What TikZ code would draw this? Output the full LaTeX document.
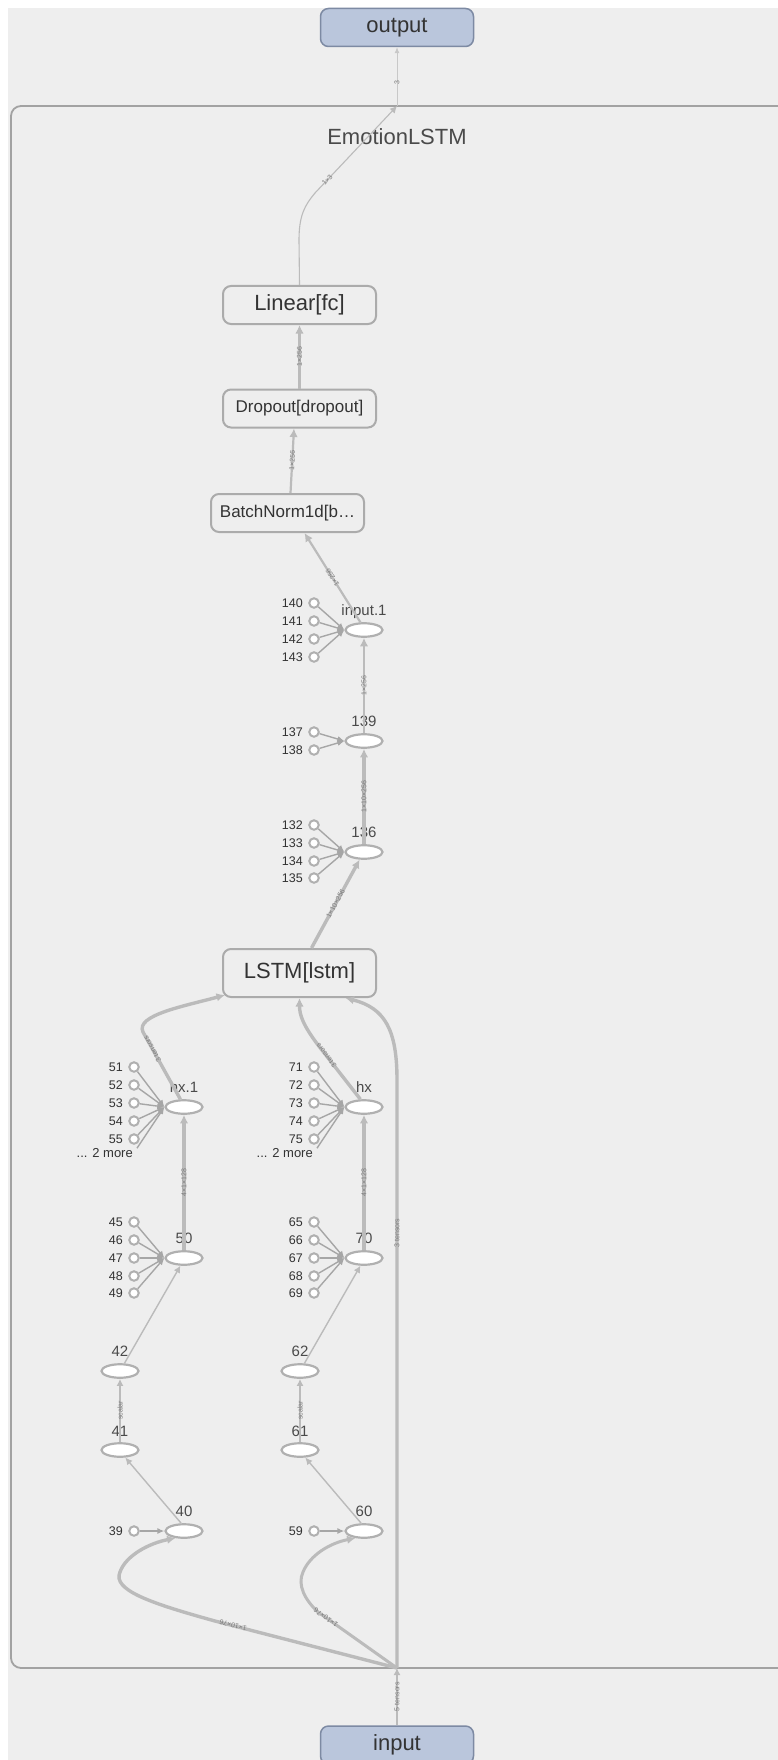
\documentclass[tikz,border=0pt]{standalone}
\usepackage{fontspec}
\setmainfont{Liberation Sans}
\usetikzlibrary{shapes.geometric,arrows.meta}
\definecolor{bgc}{HTML}{EEEEEE}
\definecolor{modc}{HTML}{A2A2A2}
\definecolor{boxc}{HTML}{ABABAB}
\definecolor{elc}{HTML}{B0B0B0}
\definecolor{edc}{HTML}{BBBBBB}
\definecolor{cec}{HTML}{A6A6A6}
\definecolor{txt}{HTML}{333333}
\definecolor{labc}{HTML}{4A4A4A}
\definecolor{elab}{HTML}{7A7A7A}
\definecolor{iofill}{HTML}{BAC6DC}
\definecolor{iobd}{HTML}{7D8AA3}
\definecolor{edl}{HTML}{C8C8C8}
\begin{document}
\begin{tikzpicture}[x=1pt,y=-1pt,
  opbox/.style={draw=boxc, fill=bgc, line width=2pt, rounded corners=8pt, minimum width=153pt, minimum height=38pt, inner sep=0pt, text=txt},
  iobox/.style={draw=iobd, fill=iofill, line width=1.5pt, rounded corners=8pt, minimum width=153pt, minimum height=38pt, inner sep=0pt, text=txt, font=\fontsize{22}{24}\selectfont},
  opn/.style={ellipse, draw=elc, fill=white, line width=2.2pt, minimum width=37pt, minimum height=13.5pt, inner sep=0pt},
  cst/.style={circle, draw=elc, fill=white, line width=2pt, minimum size=9.5pt, inner sep=0pt},
  lab/.style={font=\fontsize{15}{17}\selectfont, text=labc, inner sep=0pt, anchor=base},
  clab/.style={font=\fontsize{12.5}{14}\selectfont, text=txt, inner sep=0pt, anchor=base east},
  ed/.style={draw=edc, line width=#1, -{Latex[length=8.5pt,width=8.5pt]}},
  ed/.default=1.4pt,
  edt/.style={draw=edc, line width=1.4pt, -{Latex[length=7pt,width=7pt]}},
  ce/.style={draw=cec, line width=1.4pt, -{Latex[length=7pt,width=6pt]}},
  el/.style={font=\fontsize{7}{8}\selectfont, text=elab, sloped, allow upside down, inner sep=1pt},
]
\useasboundingbox (0,0) rectangle (778,1760);
\clip (0,0) rectangle (778,1760);
\fill[white] (0,0) rectangle (778,1760);
\fill[bgc] (8,8) rectangle (778,1760);

% module box
\draw[draw=modc, line width=1.8pt, rounded corners=10pt] (11,106) rectangle (800,1668);
\node[font=\fontsize{22}{24}\selectfont, text=labc] (mname) at (397,137) {EmotionLSTM};
\coordinate (mtop) at (397,106);
\coordinate (J) at (397,1668);

% io nodes
\node[iobox] (out) at (397,27.5) {output};
\node[iobox] (inp) at (397,1745) {input};

% op boxes
\node[opbox, font=\fontsize{22}{24}\selectfont] (lin) at (299.5,305) {Linear[fc]};
\node[opbox, font=\fontsize{17}{19}\selectfont] (drop) at (299.5,408.5) {Dropout[dropout]};
\node[opbox, font=\fontsize{17}{19}\selectfont] (bn) at (287.5,513) {BatchNorm1d[b…};
\node[opbox, minimum height=48pt, font=\fontsize{22}{24}\selectfont] (lstm) at (299.5,973) {LSTM[lstm]};

% ellipses
\node[opn] (i1) at (364,630) {};
\node[opn] (n139) at (364,741) {};
\node[opn] (n136) at (364,852) {};
\node[opn] (hx1) at (184,1107) {};
\node[opn] (hx) at (364,1107) {};
\node[opn] (n50) at (184,1258) {};
\node[opn] (n70) at (364,1258) {};
\node[opn] (n42) at (120,1371) {};
\node[opn] (n62) at (300,1371) {};
\node[opn] (n41) at (120,1450) {};
\node[opn] (n61) at (300,1450) {};
\node[opn] (n40) at (184,1531) {};
\node[opn] (n60) at (364,1531) {};

% ellipse labels
\node[lab] (li1) at (364,615) {input.1};
\node[lab] (l139) at (364,726) {139};
\node[lab] (l136) at (364,837) {136};
\node[lab] (lhx1) at (184,1092) {hx.1};
\node[lab] (lhx) at (364,1092) {hx};
\node[lab] (l50) at (184,1243) {50};
\node[lab] (l70) at (364,1243) {70};
\node[lab] (l42) at (120,1356) {42};
\node[lab] (l62) at (300,1356) {62};
\node[lab] (l41) at (120,1436) {41};
\node[lab] (l61) at (300,1436) {61};
\node[lab] (l40) at (184,1516) {40};
\node[lab] (l60) at (364,1516) {60};

% constants
\foreach \n/\y in {140/603,141/621,142/639,143/657}{
  \node[cst] (c\n) at (314,\y) {};
  \node[clab] (t\n) at (303,\y+4.5) {\n};
  \draw[ce] (c\n) -- (i1.west);
}
\foreach \n/\y in {137/732,138/750}{
  \node[cst] (c\n) at (314,\y) {};
  \node[clab] (t\n) at (303,\y+4.5) {\n};
  \draw[ce] (c\n) -- (n139.west);
}
\foreach \n/\y in {132/825,133/843,134/861,135/878}{
  \node[cst] (c\n) at (314,\y) {};
  \node[clab] (t\n) at (303,\y+4.5) {\n};
  \draw[ce] (c\n) -- (n136.west);
}
\foreach \n/\y in {51/1067,52/1085,53/1103,54/1121,55/1139}{
  \node[cst] (c\n) at (134,\y) {};
  \node[clab] (t\n) at (123,\y+4.5) {\n};
  \draw[ce] (c\n) -- (hx1.west);
}
\foreach \n/\y in {71/1067,72/1085,73/1103,74/1121,75/1139}{
  \node[cst] (c\n) at (314,\y) {};
  \node[clab] (t\n) at (303,\y+4.5) {\n};
  \draw[ce] (c\n) -- (hx.west);
}
\foreach \n/\y in {45/1222,46/1240,47/1258,48/1276,49/1293}{
  \node[cst] (c\n) at (134,\y) {};
  \node[clab] (t\n) at (123,\y+4.5) {\n};
  \draw[ce] (c\n) -- (n50.west);
}
\foreach \n/\y in {65/1222,66/1240,67/1258,68/1276,69/1293}{
  \node[cst] (c\n) at (314,\y) {};
  \node[clab] (t\n) at (303,\y+4.5) {\n};
  \draw[ce] (c\n) -- (n70.west);
}
\node[clab, font=\fontsize{13}{15}\selectfont] (m1) at (133,1157.5) {... 2 more};
\node[clab, font=\fontsize{13}{15}\selectfont] (m2) at (313,1157.5) {... 2 more};
\draw[ce] ([xshift=4pt]m1.north east) -- (hx1.west);
\draw[ce] ([xshift=4pt]m2.north east) -- (hx.west);

\node[cst] (c39) at (134,1531) {};
\node[clab] (t39) at (123,1535.5) {39};
\draw[ce] (c39) -- (n40.west);
\node[cst] (c59) at (314,1531) {};
\node[clab] (t59) at (303,1535.5) {59};
\draw[ce] (c59) -- (n60.west);

% edges top part
\draw[draw=edl, line width=0.8pt, -{Latex[length=6pt,width=5pt]}] (mtop) -- node[el, pos=0.4]{3} (out.south);
\draw[edt, line width=1.1pt] (lin.north) -- (299,240) .. controls (299,215) and (305,205) .. (315,193) -- node[el,pos=0.15]{1×3} (mtop);
\draw[ed=2.2pt] (drop.north) -- node[el]{1×256} (lin.south);
\draw[ed=2.2pt] ([xshift=3pt]bn.north) -- node[el]{1×256} ([xshift=-5.5pt]drop.south);
\draw[ed=2.2pt] (i1.115) -- node[el]{1×256} ([xshift=17pt]bn.south);
\draw[ed=2.2pt] (n139.north) -- node[el]{1×256} (i1.south);
\draw[ed=3.4pt] (n136.north) -- node[el]{1×10×256} (n139.south);
\draw[ed=3.4pt] ([xshift=12pt]lstm.north) -- node[el]{1×10×256} (n136.240);

% edges into LSTM
\draw[ed=3.4pt] (hx1.115) -- node[el,pos=0.75]{3 tensors} (143,1032) .. controls (135,1015) and (185,1006) .. ([xshift=3pt,yshift=3pt]lstm.south west);
\draw[ed=3.4pt] (hx.115) -- node[el,pos=0.8]{3 tensors} (318,1045) .. controls (303,1025) and (299.5,1015) .. (lstm.south);
\draw[ed=3.4pt] (J) -- node[el,pos=0.74]{3 tensors} (397,1080) .. controls (397,1030) and (385,1008) .. ([xshift=46pt]lstm.south);

% lower chains
\draw[ed=3.4pt] (n50.north) -- node[el]{4×1×128} (hx1.south);
\draw[ed=3.4pt] (n70.north) -- node[el]{4×1×128} (hx.south);
\draw[edt] (n42.60) -- (n50.245);
\draw[edt] (n62.60) -- (n70.245);
\draw[edt] (n41.north) -- node[el]{scalar} (n42.south);
\draw[edt] (n61.north) -- node[el]{scalar} (n62.south);
\draw[edt] (n40.110) -- (n41.-55);
\draw[edt] (n60.110) -- (n61.-55);

% input edges
\draw[ed=3.4pt] (J) -- node[el,pos=0.9]{1×10×76} (215,1621) .. controls (150,1603) and (112,1590) .. (120,1572) .. controls (126,1555) and (150,1543) .. (n40.220);
\draw[ed=3pt] (J) -- node[el,pos=0.9]{1×10×76} (318,1612) .. controls (305,1600) and (297,1585) .. (303,1572) .. controls (310,1555) and (330,1543) .. (n60.220);
\draw[edt] (inp.north) -- node[el]{5 tensors} (J);
\end{tikzpicture}
\end{document}
